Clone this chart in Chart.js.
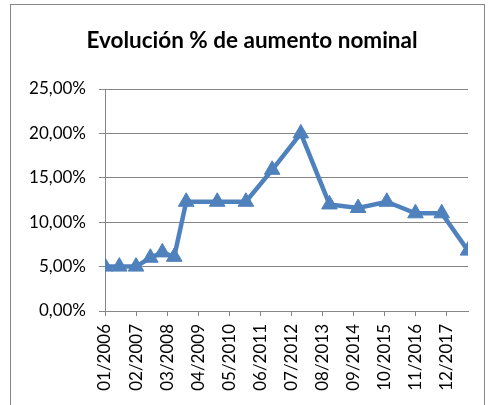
<!DOCTYPE html>
<html>
<head>
<meta charset="utf-8">
<script src="https://cdn.jsdelivr.net/npm/chart.js@4"></script>
<style>
  html, body { margin: 0; padding: 0; background: #fff; overflow: hidden; }
  #wrap { position: relative; width: 496px; height: 405px; }
  #frame { position: absolute; left: 10px; top: 4px; width: 475px; height: 430px; border: 1px solid #878787; box-sizing: border-box; pointer-events: none; }
  canvas { position: absolute; left: 0; top: 0; }
</style>
</head>
<body>
<div id="wrap">
  <canvas id="c" width="496" height="405"></canvas>
  <div id="frame"></div>
</div>
<script>
const titleText = "Evolución % de aumento nominal";
const dates = ["01/2006","07/2006","02/2007","08/2007","01/2008","06/2008","11/2008","12/2009","12/2010","11/2011","11/2012","11/2013","11/2014","11/2015","11/2016","10/2017","09/2018"];
const values = [5.0,5.0,5.0,6.0,6.6,6.1,12.3,12.3,12.3,15.9,20.0,12.0,11.6,12.3,11.0,11.0,6.8];
const xTickLabels = ["01/2006","02/2007","03/2008","04/2009","05/2010","06/2011","07/2012","08/2013","09/2014","10/2015","11/2016","12/2017"];
const yTicks = [0, 5, 10, 15, 20, 25];

function toMonth(s) {
  const [m, y] = s.split('/').map(Number);
  return (y - 2006) * 12 + (m - 1);
}
function monthLabel(v) {
  const y = 2006 + Math.floor(v / 12);
  const m = (v % 12) + 1;
  return String(m).padStart(2, '0') + '/' + y;
}

const points = dates.map((d, i) => ({ x: toMonth(d), y: values[i] }));
const FONT = "Lato, 'Liberation Sans', sans-serif";
const GRID = '#878787';
const BLUE = '#4F81BD';

new Chart(document.getElementById('c'), {
  type: 'line',
  data: {
    datasets: [{
      data: points,
      borderColor: BLUE,
      backgroundColor: BLUE,
      borderWidth: 4.5,
      pointStyle: 'triangle',
      pointRadius: 9,
      pointBorderWidth: 1,
      pointBackgroundColor: BLUE,
      pointBorderColor: BLUE,
      tension: 0,
      fill: false
    }]
  },
  options: {
    responsive: false,
    animation: false,
    devicePixelRatio: 1,
    layout: { padding: { left: 8, right: 0, top: 0, bottom: 0 } },
    plugins: {
      legend: { display: false },
      tooltip: { enabled: false },
      title: {
        display: true,
        text: titleText,
        color: '#000',
        font: { family: FONT, size: 22.5, weight: 'bold' },
        padding: { top: 27, bottom: 35 }
      }
    },
    scales: {
      x: {
        type: 'linear',
        min: toMonth(dates[0]),
        max: toMonth(dates[dates.length - 1]),
        afterBuildTicks: (s) => { s.ticks = xTickLabels.map(l => ({ value: toMonth(l) })); },
        afterFit: (s) => { s.height = 94; },
        grid: { display: true, drawOnChartArea: false, drawTicks: true, tickLength: 5, color: GRID, lineWidth: 1 },
        border: { display: true, color: GRID, width: 1 },
        ticks: {
          autoSkip: false,
          minRotation: 90,
          maxRotation: 90,
          padding: 8,
          color: '#000',
          font: { family: FONT, size: 17 },
          callback: (v) => monthLabel(v)
        }
      },
      y: {
        min: 0,
        max: 25,
        afterBuildTicks: (s) => { s.ticks = yTicks.map(v => ({ value: v })); },
        afterFit: (s) => { s.width = 97; },
        grid: { color: GRID, lineWidth: 1, drawTicks: true, tickLength: 6 },
        border: { display: true, color: GRID, width: 1 },
        ticks: {
          padding: 13,
          color: '#000',
          font: { family: FONT, size: 17 },
          callback: (v) => v.toFixed(2).replace('.', ',') + '%'
        }
      },
      yr: {
        position: 'right',
        display: true,
        min: 0,
        max: 25,
        afterFit: (s) => { s.width = 28; },
        grid: { display: false, drawOnChartArea: false },
        border: { display: false },
        ticks: { display: false }
      }
    }
  }
});
</script>
</body>
</html>
